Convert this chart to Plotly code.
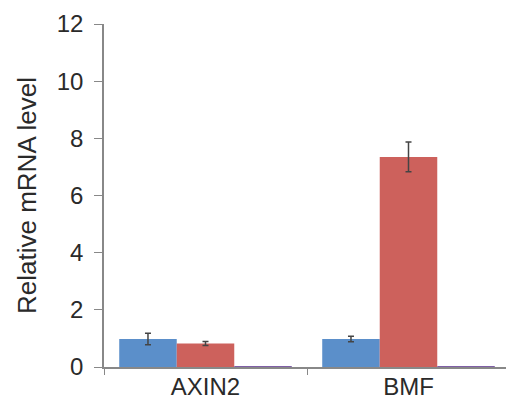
import plotly.graph_objects as go

categories = ["AXIN2", "BMF"]
series_names = ["Control", "Treatment", "Other"]
blue_vals = [0.98, 0.98]
blue_err = [0.2, 0.1]
red_vals = [0.82, 7.35]
red_err = [0.07, 0.52]
purple_vals = [0.02, 0.02]
y_ticks = [0, 2, 4, 6, 8, 10, 12]

colors = ["#5B8FCA", "#CD615C", "#7F5FA6"]
font = "Liberation Sans, Arial, sans-serif"

fig = go.Figure()
err_style = dict(type="data", thickness=1.5, width=3, color="#444444")
fig.add_bar(x=categories, y=blue_vals, name=series_names[0], marker_color=colors[0],
            marker_line_width=0,
            error_y=dict(array=blue_err, **err_style))
fig.add_bar(x=categories, y=red_vals, name=series_names[1], marker_color=colors[1],
            marker_line_width=0,
            error_y=dict(array=red_err, **err_style))
fig.add_bar(x=categories, y=purple_vals, name=series_names[2], marker_color=colors[2],
            marker_line_width=0)

fig.update_layout(
    width=506, height=398,
    margin=dict(l=96, r=4, t=16, b=39, autoexpand=False),
    paper_bgcolor="white", plot_bgcolor="white",
    barmode="group", bargap=0.15, bargroupgap=0,
    showlegend=False,
    font=dict(family=font, size=24, color="#2a2a2a"),
)
fig.update_xaxes(
    type="category", showline=True, linecolor="#888888", linewidth=1.5,
    ticks="outside", tickson="boundaries", ticklen=6, tickcolor="#888888",
    tickfont=dict(size=24), showgrid=False, automargin=False, ticklabelstandoff=-3,
)
fig.update_yaxes(
    range=[0, 12], tickvals=y_ticks, showline=True, linecolor="#888888", linewidth=1.5,
    ticks="outside", ticklen=8, tickcolor="#888888", showgrid=False, zeroline=False,
    tickfont=dict(size=24), automargin=False, ticklabelstandoff=6,
    title=dict(text="Relative mRNA level", font=dict(size=26), standoff=13),
)
fig.write_html("out.html")
